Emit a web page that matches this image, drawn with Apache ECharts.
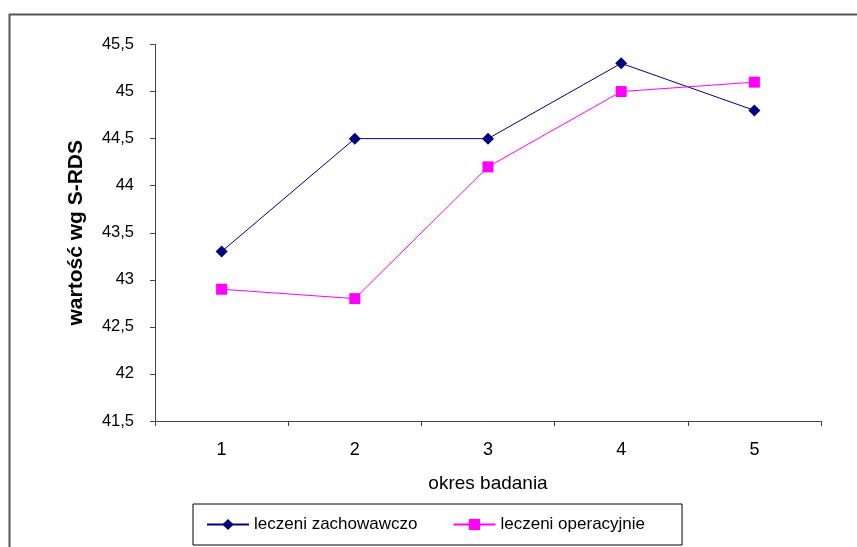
<!DOCTYPE html>
<html>
<head>
<meta charset="utf-8">
<style>html,body{margin:0;padding:0;background:#fff;}#c{width:857px;height:547px;}</style>
<script src="https://cdn.jsdelivr.net/npm/echarts@6/dist/echarts.min.js"></script>
</head>
<body>
<div id="c"></div>
<script>
var categories = ['1', '2', '3', '4', '5'];
var zachowawczo = [43.3, 44.5, 44.5, 45.3, 44.8];
var operacyjnie = [42.9, 42.8, 44.2, 45.0, 45.1];
var seriesNames = ['leczeni zachowawczo', 'leczeni operacyjnie'];
var yMin = 41.5, yMax = 45.5, yStep = 0.5;

var chart = echarts.init(document.getElementById('c'), null, {renderer: 'canvas'});
var font = 'Liberation Sans, Arial, sans-serif';
chart.setOption({
  animation: false,
  backgroundColor: '#fff',
  graphic: [{
    type: 'rect', left: 7, top: 12, silent: true,
    shape: {width: 900, height: 600},
    style: {fill: 'none', stroke: '#555', lineWidth: 2}
  }],
  grid: {left: 155, right: 36, top: 44.5, bottom: 126},
  xAxis: {
    type: 'category', data: categories, boundaryGap: true,
    name: 'okres badania', nameLocation: 'middle', nameGap: 53,
    nameTextStyle: {fontFamily: font, fontSize: 19, color: '#000'},
    axisLine: {lineStyle: {color: '#444', width: 1}},
    axisTick: {show: true, length: 5, lineStyle: {color: '#444'}},
    axisLabel: {fontFamily: font, fontSize: 18, color: '#000', margin: 20}
  },
  yAxis: {
    type: 'value', min: yMin, max: yMax, interval: yStep,
    name: 'wartość wg S-RDS', nameLocation: 'middle', nameGap: 68,
    nameTextStyle: {fontFamily: font, fontSize: 21, fontWeight: 'bold', color: '#000'},
    axisLine: {show: true, lineStyle: {color: '#444', width: 1}},
    axisTick: {show: true, length: 5, lineStyle: {color: '#444'}},
    splitLine: {show: false},
    axisLabel: {fontFamily: font, fontSize: 16.5, color: '#000', margin: 21,
      formatter: function (v) { return String(v).replace('.', ','); }}
  },
  legend: {
    left: 193, top: 504,
    padding: [12, 37, 12, 13],
    itemWidth: 42, itemHeight: 14, itemGap: 35,
    borderColor: '#000', borderWidth: 1,
    textStyle: {fontFamily: font, fontSize: 17, color: '#000'},
    data: seriesNames
  },
  series: [{
    name: seriesNames[0], type: 'line', data: zachowawczo,
    symbol: 'diamond', symbolSize: 12,
    lineStyle: {color: '#000080', width: 1},
    itemStyle: {color: '#000080'}
  }, {
    name: seriesNames[1], type: 'line', data: operacyjnie,
    symbol: 'rect', symbolSize: 11,
    lineStyle: {color: '#FF00FF', width: 1},
    itemStyle: {color: '#FF00FF'}
  }]
});
</script>
</body>
</html>
